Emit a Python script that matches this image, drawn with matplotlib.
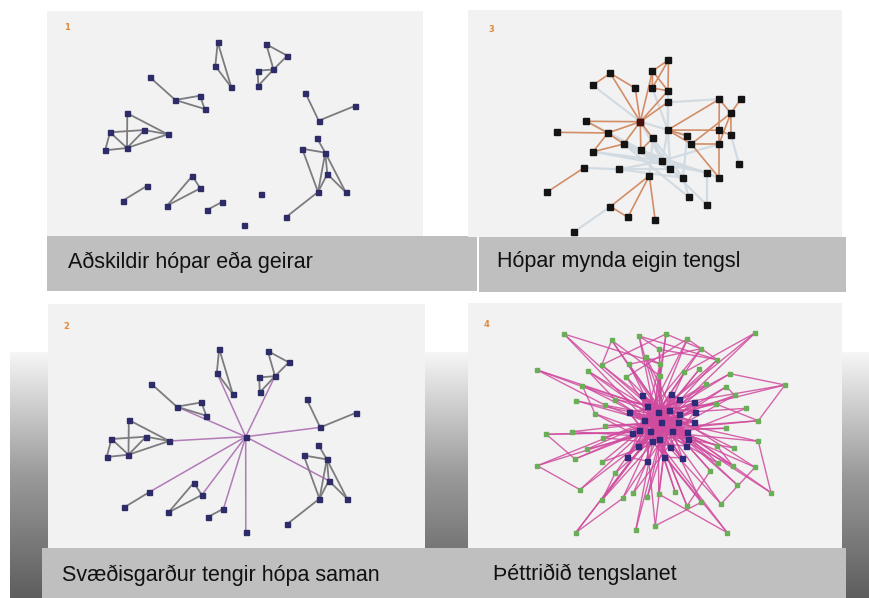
import numpy as np
import matplotlib.pyplot as plt
from matplotlib.collections import LineCollection
from matplotlib.colors import LinearSegmentedColormap
from matplotlib.patches import Rectangle

# ---- data -------------------------------------------------------------
captions = ["Aðskildir hópar eða geirar", "Hópar mynda eigin tengsl",
            "Svæðisgarður tengir hópa saman", "Þéttriðið tengslanet"]
panel_numbers = ["1", "3", "2", "4"]

# panel 1: separate groups (node x, y)
p1_x = [217.7, 215.3, 231.3, 266.3, 287.3, 273.5, 257.7, 258.3, 150.0, 175.3,
        200.0, 204.7, 305.3, 318.7, 354.7, 127.3, 110.0, 144.5, 167.7, 105.2,
        127.0, 317.0, 302.2, 325.3, 327.3, 318.0, 345.7, 285.8, 147.3, 122.7,
        192.3, 200.3, 167.0, 222.0, 207.0, 260.7, 244.3]
p1_y = [42.3, 66.0, 87.3, 44.3, 55.7, 69.5, 70.7, 85.7, 77.3, 100.0,
        95.7, 109.0, 92.7, 120.7, 106.0, 113.3, 132.3, 130.0, 134.3, 150.3,
        148.0, 138.3, 148.7, 152.7, 174.0, 192.0, 192.2, 217.3, 185.7, 200.7,
        176.0, 188.3, 205.7, 202.0, 210.0, 194.3, 225.0]
p1_edges = [(0, 1), (0, 2), (1, 2),
            (3, 4), (3, 5), (4, 5), (6, 5), (6, 7), (5, 7),
            (8, 9), (9, 10), (10, 11), (9, 11),
            (12, 13), (13, 14),
            (15, 20), (15, 18), (16, 17), (16, 20), (16, 19), (19, 20),
            (20, 17), (20, 18), (17, 18),
            (21, 23), (22, 23), (22, 25), (23, 25), (23, 24), (23, 26),
            (24, 26), (24, 25), (25, 27),
            (28, 29), (30, 31), (30, 32), (31, 32), (33, 34)]

# panel 2: same groups, node 35 becomes the hub that bridges them
p2_hub = (244.2, 130.0)
p2_hub_links = [1, 5, 9, 18, 13, 24, 28, 31, 33, 36]
p2_dropped = 35

# panel 3: groups with their own links
p3_x = [668.5, 652.5, 610.3, 592.7, 635.2, 652.3, 668.0, 667.8, 719.3, 740.7,
        730.8, 640.3, 586.5, 556.7, 607.8, 667.8, 687.2, 719.0, 731.0, 652.8,
        623.7, 691.3, 719.0, 593.2, 640.8, 662.2, 739.0, 584.0, 619.5, 670.5,
        683.0, 707.2, 719.0, 649.3, 547.2, 689.0, 707.2, 610.5, 627.8, 655.2,
        574.3]
p3_y = [60.0, 71.0, 73.3, 85.2, 88.2, 88.0, 90.8, 102.3, 99.2, 99.2,
        113.3, 121.7, 121.3, 132.3, 133.0, 130.0, 135.7, 130.2, 135.3, 138.2,
        144.0, 144.0, 144.0, 151.7, 150.2, 160.8, 163.8, 167.8, 169.3, 169.3,
        177.7, 172.5, 177.7, 175.7, 192.0, 197.3, 205.3, 206.5, 217.3, 220.2,
        231.7]
p3_strong = [(11, 2), (11, 4), (11, 1), (11, 6), (11, 7), (11, 12), (11, 14),
             (11, 20), (11, 24), (11, 19), (3, 2), (2, 4), (12, 14), (13, 14),
             (14, 20), (14, 23), (23, 20), (19, 24), (27, 34),
             (33, 37), (33, 38), (37, 38), (33, 39),
             (0, 1), (0, 6), (0, 5), (1, 5), (1, 6), (5, 6),
             (15, 8), (15, 17), (15, 21), (15, 16), (21, 22), (21, 10),
             (8, 10), (8, 17), (9, 10), (10, 18), (17, 18), (22, 32),
             (21, 32), (22, 10), (17, 22)]
p3_weak = [(3, 11), (7, 8), (7, 15), (5, 15), (11, 25), (11, 29), (14, 25),
           (20, 29), (23, 31), (27, 28), (28, 29), (28, 25), (24, 30),
           (24, 32), (19, 25), (19, 30), (15, 29), (15, 25), (16, 30),
           (20, 35), (30, 35), (31, 36), (18, 26), (40, 37), (23, 25),
           (19, 33), (14, 29), (11, 16), (25, 22), (29, 36), (28, 30),
           (6, 15), (12, 25), (25, 31)]

# panel 4: dense network, outer (green) and inner (blue) nodes
p4_outer_x = [564.0, 611.7, 639.0, 666.0, 687.3, 755.0, 659.3, 646.0, 701.0, 601.7,
              629.0, 660.3, 717.3, 537.3, 588.0, 684.3, 730.0, 626.3, 659.7, 706.3,
              726.3, 785.0, 582.3, 615.3, 576.0, 734.7, 605.3, 716.0, 746.3, 595.0,
              758.3, 605.3, 725.7, 546.3, 572.0, 758.3, 603.0, 716.7, 733.7, 586.7,
              537.3, 575.0, 602.3, 718.3, 732.7, 755.0, 615.3, 710.3, 737.3, 771.0,
              580.0, 622.7, 633.3, 647.3, 658.7, 675.3, 701.3, 687.0, 721.0, 602.0,
              575.7, 635.7, 655.3, 727.3, 699.3]
p4_outer_y = [334.0, 340.3, 336.0, 334.0, 339.0, 333.0, 349.3, 357.0, 348.7, 365.0,
              364.3, 364.0, 359.7, 370.0, 371.0, 372.3, 373.7, 377.0, 375.7, 384.3,
              386.7, 385.0, 385.7, 399.7, 400.7, 395.3, 405.3, 404.0, 408.3, 413.7,
              420.7, 425.7, 428.3, 434.3, 431.7, 441.3, 437.7, 445.7, 448.0, 449.3,
              465.7, 459.0, 462.0, 463.3, 465.7, 467.3, 473.0, 470.7, 485.0, 492.7,
              489.7, 498.3, 493.0, 497.3, 494.0, 492.3, 502.3, 506.0, 504.0, 500.0,
              532.7, 530.3, 525.7, 532.7, 369.3]
p4_inner_x = [642.0, 671.3, 679.0, 628.7, 647.3, 658.3, 669.3, 678.7, 694.0, 694.7,
              644.0, 661.0, 678.0, 694.0, 632.0, 639.3, 650.0, 672.3, 686.7, 638.0,
              652.3, 659.3, 670.0, 688.0, 686.0, 627.3, 646.7, 663.7, 682.3]
p4_inner_y = [395.0, 394.3, 398.7, 412.0, 405.7, 412.3, 410.3, 414.3, 402.3, 411.7,
              419.7, 421.7, 421.7, 421.7, 433.3, 429.7, 431.0, 431.0, 431.7, 446.0,
              441.0, 439.0, 447.3, 439.0, 446.0, 457.0, 461.0, 457.0, 458.0]
p4_outer_links = [(28, 11), (24, 17), (22, 27), (26, 20), (25, 16), (19, 14),
                  (27, 21), (28, 12), (14, 25), (23, 18), (22, 24), (26, 19),
                  (15, 19), (13, 12), (18, 17), (25, 20), (14, 10), (28, 23),
                  (21, 27), (10, 25), (16, 19), (10, 3), (13, 23), (24, 9),
                  (18, 12), (15, 20), (23, 13), (3, 10), (18, 9), (15, 14),
                  (16, 15), (13, 12), (16, 15), (17, 18), (23, 11), (16, 3),
                  (9, 24), (10, 3), (4, 15), (8, 13), (12, 8), (7, 9), (2, 18),
                  (0, 3), (4, 10), (3, 0), (8, 1), (0, 5), (4, 0), (11, 4),
                  (2, 8), (1, 7), (9, 6), (2, 1), (1, 5), (0, 4), (3, 5), (4, 0),
                  (0, 10), (7, 2), (6, 11), (5, 1), (6, 0), (3, 16), (25, 19)]
p4_inner_edges = [(0, 4), (1, 2), (4, 5), (5, 6), (6, 7), (8, 9), (10, 11),
                  (11, 12), (14, 15), (15, 16), (17, 18), (19, 20), (20, 21),
                  (21, 22), (23, 24), (25, 26), (27, 28), (3, 10), (12, 13)]
p4_outer_pairs = [(3, 8), (4, 12), (1, 9), (7, 11), (2, 6), (0, 11), (2, 12),
                  (3, 9), (5, 15), (8, 10), (4, 17), (13, 26), (21, 30),
                  (21, 16), (35, 49), (40, 50), (45, 58), (60, 51), (62, 56),
                  (63, 54), (33, 41), (22, 29), (20, 25), (12, 6), (1, 18),
                  (14, 23), (44, 37), (59, 46), (57, 47), (30, 27)]

# ---- layout / style ---------------------------------------------------
W, H = 870, 598
panel_boxes = [(47, 11, 423, 236), (468, 10, 842, 237),
               (48, 304, 425, 548), (468, 303, 842, 548)]
caption_bars = [(47, 236, 477, 291), (479, 237, 846, 292),
                (42, 548, 846, 598)]
caption_pos = [(68, 268), (497, 267), (62, 581), (493, 580)]
number_pos = [(67, 28), (491, 30), (66, 327), (487, 325)]

cap_font = ['Liberation Sans', 'DejaVu Sans']

fig = plt.figure(figsize=(W / 100, H / 100), dpi=100)
bg = fig.add_axes([0, 0, 1, 1])
bg.set_xlim(0, W)
bg.set_ylim(H, 0)
bg.axis('off')

# grey gradient behind the lower half
grad = np.linspace(0, 1, 256).reshape(-1, 1)
cmap = LinearSegmentedColormap.from_list('g', ['#f6f6f6', '#9a9a9a', '#5e5e5e'])
bg.imshow(grad, cmap=cmap, aspect='auto', extent=(10, W, H, 352), zorder=0)

for x0, y0, x1, y1 in caption_bars:
    bg.add_patch(Rectangle((x0, y0), x1 - x0, y1 - y0, facecolor='#bfbfbf',
                           edgecolor='none', zorder=2))
for text, (tx, ty) in zip(captions, caption_pos):
    bg.text(tx, ty, text, fontsize=15.5, family=cap_font, color='#111111',
            va='baseline', ha='left', zorder=3)


def panel_axes(box):
    x0, y0, x1, y1 = box
    ax = fig.add_axes([x0 / W, 1 - y1 / H, (x1 - x0) / W, (y1 - y0) / H])
    ax.set_xlim(x0, x1)
    ax.set_ylim(y1, y0)
    ax.set_facecolor('#f2f2f2')
    ax.set_xticks([])
    ax.set_yticks([])
    for s in ax.spines.values():
        s.set_visible(False)
    return ax


def draw_edges(ax, xs, ys, edges, color, lw, alpha=1.0, z=1):
    segs = [[(xs[a], ys[a]), (xs[b], ys[b])] for a, b in edges]
    ax.add_collection(LineCollection(segs, colors=color, linewidths=lw,
                                     alpha=alpha, zorder=z))


axes = [panel_axes(b) for b in panel_boxes]
for ax, num, (nx, ny) in zip(axes, panel_numbers, number_pos):
    ax.text(nx, ny, num, fontsize=6, fontweight='bold', color='#e08a3a',
            ha='center', va='center')

# panel 1
ax1 = axes[0]
draw_edges(ax1, p1_x, p1_y, p1_edges, '#7c7c80', 1.3)
ax1.plot(p1_x, p1_y, 's', ms=3.6, color='#2d2b68', zorder=3)

# panel 2: panel 1 groups shifted into the lower panel, plus a hub
ax2 = axes[2]
dx, dy = 1.5, 306.7
p2_x = [x + dx for x in p1_x]
p2_y = [y + dy for y in p1_y]
hub_x, hub_y = p2_hub[0] + dx, p2_hub[1] + dy
hub_segs = [[(hub_x, hub_y), (p2_x[i], p2_y[i])] for i in p2_hub_links]
ax2.add_collection(LineCollection(hub_segs, colors='#b27ab8', linewidths=1.1, zorder=1))
draw_edges(ax2, p2_x, p2_y, p1_edges, '#7c7c80', 1.3, z=2)
keep = [i for i in range(len(p2_x)) if i != p2_dropped]
ax2.plot([p2_x[i] for i in keep], [p2_y[i] for i in keep], 's', ms=3.6,
         color='#2d2b68', zorder=3)
ax2.plot([hub_x], [hub_y], 's', ms=3.6, color='#2d2b68', zorder=3)

# panel 3
ax3 = axes[1]
draw_edges(ax3, p3_x, p3_y, p3_weak, '#d3dbe2', 1.6, z=1)
draw_edges(ax3, p3_x, p3_y, p3_strong, '#d38d66', 1.2, z=2)
ax3.plot(p3_x, p3_y, 's', ms=3.8, color='#141414', zorder=3)
ax3.plot([p3_x[11]], [p3_y[11]], 's', ms=4.2, color='#4a0f0f', zorder=4)

# panel 4
ax4 = axes[3]
segs = []
for g, (b1, b2) in enumerate(p4_outer_links):
    for b in (b1, b2):
        segs.append([(p4_outer_x[g], p4_outer_y[g]), (p4_inner_x[b], p4_inner_y[b])])
for a, b in p4_inner_edges:
    segs.append([(p4_inner_x[a], p4_inner_y[a]), (p4_inner_x[b], p4_inner_y[b])])
for a, b in p4_outer_pairs:
    segs.append([(p4_outer_x[a], p4_outer_y[a]), (p4_outer_x[b], p4_outer_y[b])])
ax4.add_collection(LineCollection(segs, colors='#d04a9e', linewidths=1.0,
                                  alpha=0.85, zorder=1))
ax4.plot(p4_outer_x, p4_outer_y, 's', ms=3.4, color='#6aae58', zorder=3)
ax4.plot(p4_inner_x, p4_inner_y, 's', ms=3.6, color='#2e2a7a', zorder=3)

fig.savefig('out.png', dpi=100)
